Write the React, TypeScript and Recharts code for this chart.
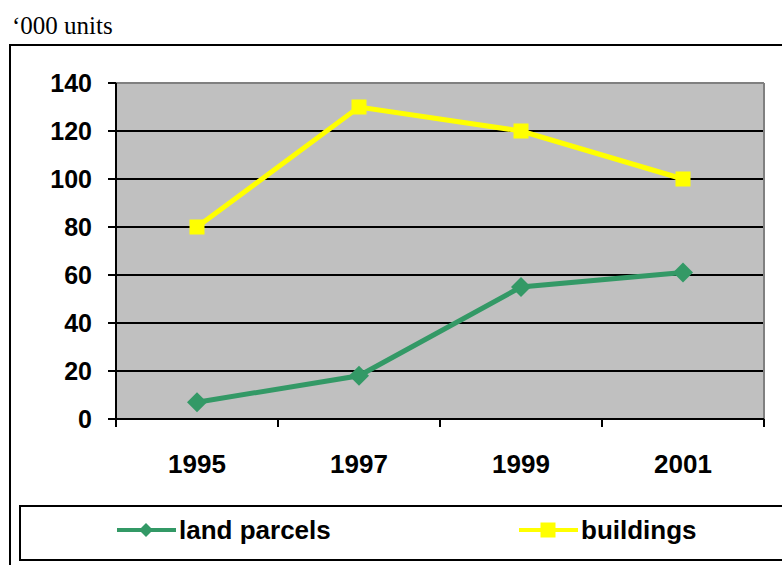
import { LineChart, Line, XAxis, YAxis, CartesianGrid, ReferenceLine } from "recharts";

const years = ["1995", "1997", "1999", "2001"];
const landParcels = [7, 18, 55, 61];
const buildings = [80, 130, 120, 100];
const yTicks = [0, 20, 40, 60, 80, 100, 120, 140];

const GREEN = "#339966";
const YELLOW = "#FFFF00";
const FONT = "'Liberation Sans', Arial, sans-serif";

const data = years.map((year, i) => ({
  x: i + 0.5,
  year,
  land: landParcels[i],
  buildings: buildings[i],
}));

const xTicks = [0, 0.5, 1, 1.5, 2, 2.5, 3, 3.5, 4];

function Diamond({ cx, cy, r, fill }: { cx: number; cy: number; r: number; fill: string }) {
  return <path d={`M${cx},${cy - r} L${cx + r},${cy} L${cx},${cy + r} L${cx - r},${cy} Z`} fill={fill} />;
}

function Square({ cx, cy, s, fill }: { cx: number; cy: number; s: number; fill: string }) {
  return <rect x={cx - s / 2} y={cy - s / 2} width={s} height={s} fill={fill} />;
}

function XTick(props: any) {
  const { x, y, payload } = props;
  const v = payload.value as number;
  if (Number.isInteger(v)) {
    return <line x1={x} x2={x} y1={y} y2={y + 8} stroke="#000" strokeWidth={2} />;
  }
  return (
    <text x={x} y={y + 54} textAnchor="middle" fontFamily={FONT} fontWeight="bold" fontSize={26} fill="#000">
      {years[Math.floor(v)]}
    </text>
  );
}

function LegendItem({ label, color, shape }: { label: string; color: string; shape: "diamond" | "square" }) {
  return (
    <div style={{ display: "flex", alignItems: "center" }}>
      <svg width={62} height={20}>
        <line x1={0} x2={59} y1={10} y2={10} stroke={color} strokeWidth={4} />
        {shape === "diamond" ? (
          <Diamond cx={29} cy={10} r={7} fill={color} />
        ) : (
          <Square cx={29} cy={10} s={15} fill={color} />
        )}
      </svg>
      <span style={{ fontFamily: FONT, fontWeight: "bold", fontSize: 26, color: "#000" }}>{label}</span>
    </div>
  );
}

export default function App() {
  return (
    <div style={{ position: "absolute", left: 0, top: 0, width: 782, height: 565, overflow: "hidden", background: "#fff" }}>
      <div
        style={{
          position: "absolute",
          left: 12,
          top: 12,
          fontFamily: "'Liberation Serif', 'Times New Roman', serif",
          fontSize: 25,
          color: "#000",
          lineHeight: "28px",
        }}
      >
        ‘000 units
      </div>
      <div
        style={{
          position: "absolute",
          left: 9,
          top: 44,
          width: 800,
          height: 560,
          border: "2px solid #000",
        }}
      />
      <div style={{ position: "absolute", left: 0, top: 0 }}>
        <LineChart width={782} height={565} data={data} margin={{ top: 83, right: 18, bottom: 0, left: 0 }}>
          <CartesianGrid vertical={false} fill="#C0C0C0" fillOpacity={1} stroke="#000" strokeWidth={2} />
          <XAxis
            type="number"
            dataKey="x"
            domain={[0, 4]}
            ticks={xTicks}
            interval={0}
            allowDecimals
            tickLine={false}
            tickSize={0}
            tickMargin={0}
            axisLine={{ stroke: "#000", strokeWidth: 2 }}
            tick={<XTick />}
            height={146}
          />
          <YAxis
            width={116}
            domain={[0, 140]}
            ticks={yTicks}
            interval={0}
            tickSize={8}
            tickMargin={16}
            tickLine={{ stroke: "#000", strokeWidth: 2 }}
            axisLine={{ stroke: "#000", strokeWidth: 2 }}
            tick={{ fill: "#000", fontFamily: FONT, fontWeight: "bold", fontSize: 25 }}
          />
          <ReferenceLine y={140} stroke="#808080" strokeWidth={2} />
          <ReferenceLine x={4} stroke="#808080" strokeWidth={2} />
          <Line
            dataKey="buildings"
            stroke={YELLOW}
            strokeWidth={5}
            isAnimationActive={false}
            dot={(p: any) => <Square key={`b${p.index}`} cx={p.cx} cy={p.cy} s={15} fill={YELLOW} />}
          />
          <Line
            dataKey="land"
            stroke={GREEN}
            strokeWidth={5}
            isAnimationActive={false}
            dot={(p: any) => <Diamond key={`l${p.index}`} cx={p.cx} cy={p.cy} r={10} fill={GREEN} />}
          />
        </LineChart>
      </div>
      <div
        style={{
          position: "absolute",
          left: 19,
          top: 505,
          width: 800,
          height: 46,
          paddingBottom: 6,
          border: "2px solid #000",
          display: "flex",
          alignItems: "center",
          paddingLeft: 96,
          boxSizing: "content-box",
        }}
      >
        <div style={{ width: 402 }}>
          <LegendItem label="land parcels" color={GREEN} shape="diamond" />
        </div>
        <LegendItem label="buildings" color={YELLOW} shape="square" />
      </div>
    </div>
  );
}
